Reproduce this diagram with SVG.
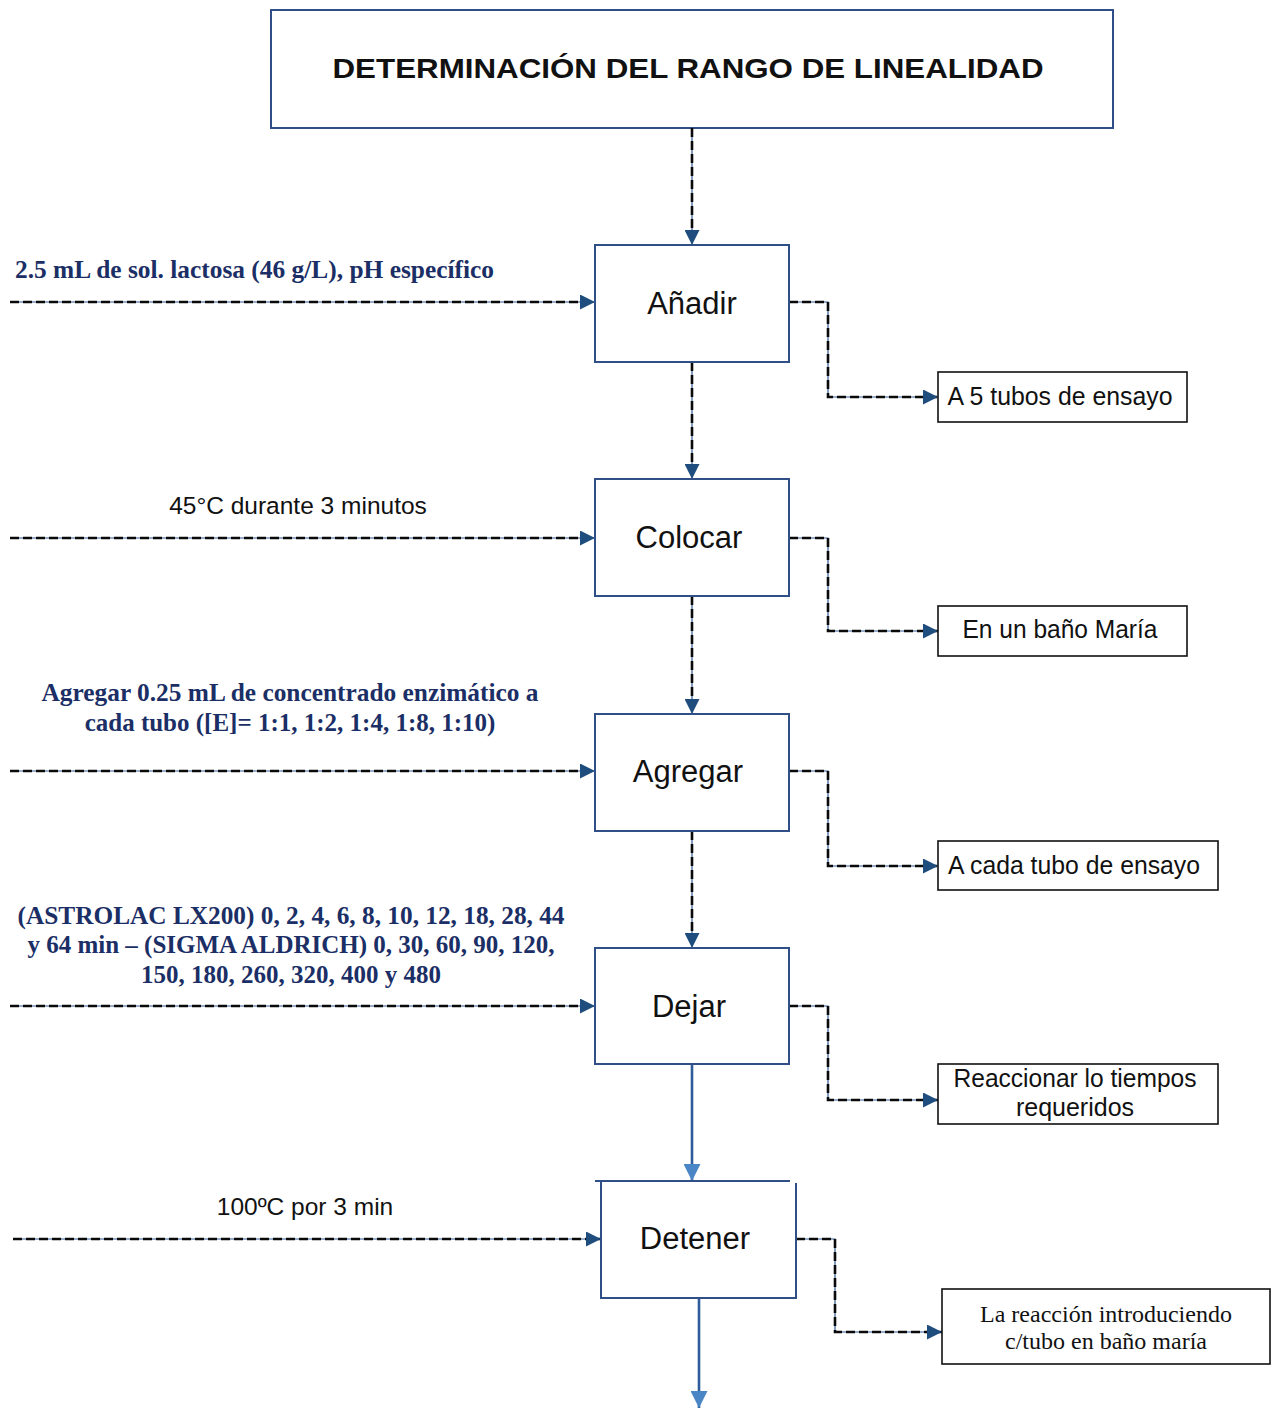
<svg xmlns="http://www.w3.org/2000/svg" width="1276" height="1408" viewBox="0 0 1276 1408">
  <style>
    .step { fill: #ffffff; stroke: #2F4F86; stroke-width: 2; }
    .note { fill: #ffffff; stroke: #111111; stroke-width: 1.6; }
    .base { fill: none; stroke: #2E5A96; stroke-width: 1.2; }
    .dash { fill: none; stroke: #0a0a0a; stroke-width: 2.6; stroke-dasharray: 9 4; }
    .solid { fill: none; stroke: #2E5C9A; stroke-width: 2.6; }
    .lbl { font-family: "Liberation Sans", Arial, sans-serif; fill: #111111; text-anchor: middle; }
    .box { font-size: 31px; }
    .blue { font-family: "Liberation Serif", "Times New Roman", serif; font-weight: bold; fill: #1B2F66; font-size: 25px; }
  </style>
  <defs>
    <marker id="ah" viewBox="0 0 10 10" refX="10" refY="5" markerWidth="15" markerHeight="15" markerUnits="userSpaceOnUse" orient="auto">
      <path d="M0,0 L10,5 L0,10 Z" fill="#1F4E7E"/>
    </marker>
    <marker id="ahl" viewBox="0 0 10 10" refX="10" refY="5" markerWidth="17" markerHeight="17" markerUnits="userSpaceOnUse" orient="auto">
      <path d="M0,0 L10,5 L0,10 Z" fill="#4A86C5"/>
    </marker>
  </defs>

  <!-- title -->
  <g id="title">
    <rect class="step" x="271" y="10" width="842" height="118"/>
    <text class="lbl" x="688" y="78" font-size="28" font-weight="bold" textLength="711" lengthAdjust="spacingAndGlyphs">DETERMINACIÓN DEL RANGO DE LINEALIDAD</text>
  </g>

  <!-- connectors -->
  <g id="connectors">
    <!-- vertical main flow (dashed) -->
    <path class="base" d="M692,128 V245"/>
    <path class="dash" d="M692,128 V245" marker-end="url(#ah)"/>
    <path class="base" d="M692,362 V479"/>
    <path class="dash" d="M692,362 V479" marker-end="url(#ah)"/>
    <path class="base" d="M692,596 V714"/>
    <path class="dash" d="M692,596 V714" marker-end="url(#ah)"/>
    <path class="base" d="M692,831 V948"/>
    <path class="dash" d="M692,831 V948" marker-end="url(#ah)"/>
    <!-- solid flow -->
    <path class="solid" d="M692,1064 V1181" marker-end="url(#ahl)"/>
    <path class="solid" d="M699,1298 V1408" marker-end="url(#ahl)"/>

    <!-- inputs from left -->
    <path class="base" d="M10,302 H595"/>
    <path class="dash" d="M10,302 H595" marker-end="url(#ah)"/>
    <path class="base" d="M10,538 H595"/>
    <path class="dash" d="M10,538 H595" marker-end="url(#ah)"/>
    <path class="base" d="M10,771 H595"/>
    <path class="dash" d="M10,771 H595" marker-end="url(#ah)"/>
    <path class="base" d="M10,1006 H595"/>
    <path class="dash" d="M10,1006 H595" marker-end="url(#ah)"/>
    <path class="base" d="M13,1239 H601"/>
    <path class="dash" d="M13,1239 H601" marker-end="url(#ah)"/>

    <!-- outputs to right -->
    <path class="base" d="M789,302 H828 V397 H938"/>
    <path class="dash" d="M789,302 H828 V397 H938" marker-end="url(#ah)"/>
    <path class="base" d="M789,538 H828 V631 H938"/>
    <path class="dash" d="M789,538 H828 V631 H938" marker-end="url(#ah)"/>
    <path class="base" d="M789,771 H828 V866 H938"/>
    <path class="dash" d="M789,771 H828 V866 H938" marker-end="url(#ah)"/>
    <path class="base" d="M789,1006 H828 V1100 H938"/>
    <path class="dash" d="M789,1006 H828 V1100 H938" marker-end="url(#ah)"/>
    <path class="base" d="M796,1239 H835 V1332 H942"/>
    <path class="dash" d="M796,1239 H835 V1332 H942" marker-end="url(#ah)"/>
  </g>

  <!-- input labels -->
  <text class="blue" x="15" y="278" textLength="479" lengthAdjust="spacingAndGlyphs">2.5 mL de sol. lactosa (46 g/L), pH específico</text>
  <text class="lbl" x="298" y="514" font-size="24.5" fill="#222222">45°C durante 3 minutos</text>
  <text class="blue" x="290" y="701" text-anchor="middle" textLength="497" lengthAdjust="spacingAndGlyphs">Agregar 0.25 mL de concentrado enzimático a</text>
  <text class="blue" x="290" y="731" text-anchor="middle">cada tubo ([E]= 1:1, 1:2, 1:4, 1:8, 1:10)</text>
  <text class="blue" x="291" y="924" text-anchor="middle" textLength="547" lengthAdjust="spacingAndGlyphs">(ASTROLAC LX200) 0, 2, 4, 6, 8, 10, 12, 18, 28, 44</text>
  <text class="blue" x="291" y="953" text-anchor="middle">y 64 min – (SIGMA ALDRICH) 0, 30, 60, 90, 120,</text>
  <text class="blue" x="291" y="983" text-anchor="middle">150, 180, 260, 320, 400 y 480</text>
  <text class="lbl" x="305" y="1215" font-size="24.5" fill="#222222">100ºC por 3 min</text>

  <!-- process steps -->
  <g id="anadir">
    <rect class="step" x="595" y="245" width="194" height="117"/>
    <text class="lbl box" x="692" y="314">Añadir</text>
  </g>
  <g id="colocar">
    <rect class="step" x="595" y="479" width="194" height="117"/>
    <text class="lbl box" x="689" y="548">Colocar</text>
  </g>
  <g id="agregar">
    <rect class="step" x="595" y="714" width="194" height="117"/>
    <text class="lbl box" x="688" y="782">Agregar</text>
  </g>
  <g id="dejar">
    <rect class="step" x="595" y="948" width="194" height="116"/>
    <text class="lbl box" x="689" y="1017">Dejar</text>
  </g>
  <g id="detener">
    <path class="step" d="M601,1181 V1298 H796 V1183"/>
    <path class="step" d="M595,1181 H790"/>
    <text class="lbl box" x="695" y="1249">Detener</text>
  </g>

  <!-- result notes -->
  <g id="n1">
    <rect class="note" x="938" y="372" width="249" height="50"/>
    <text class="lbl" x="1060" y="405" font-size="25" textLength="225" lengthAdjust="spacingAndGlyphs">A 5 tubos de ensayo</text>
  </g>
  <g id="n2">
    <rect class="note" x="938" y="606" width="249" height="50"/>
    <text class="lbl" x="1060" y="638" font-size="25" textLength="195" lengthAdjust="spacingAndGlyphs">En un baño María</text>
  </g>
  <g id="n3">
    <rect class="note" x="938" y="841" width="280" height="49"/>
    <text class="lbl" x="1074" y="874" font-size="25" textLength="252" lengthAdjust="spacingAndGlyphs">A cada tubo de ensayo</text>
  </g>
  <g id="n4">
    <rect class="note" x="938" y="1064" width="280" height="60"/>
    <text class="lbl" x="1075" y="1087" font-size="25" textLength="243" lengthAdjust="spacingAndGlyphs">Reaccionar lo tiempos</text>
    <text class="lbl" x="1075" y="1116" font-size="25">requeridos</text>
  </g>
  <g id="n5">
    <rect class="note" x="942" y="1289" width="328" height="75"/>
    <text class="lbl" x="1106" y="1322" font-size="24" style="font-family:'Liberation Serif','Times New Roman',serif">La reacción introduciendo</text>
    <text class="lbl" x="1106" y="1349" font-size="24" style="font-family:'Liberation Serif','Times New Roman',serif">c/tubo en baño maría</text>
  </g>
</svg>
